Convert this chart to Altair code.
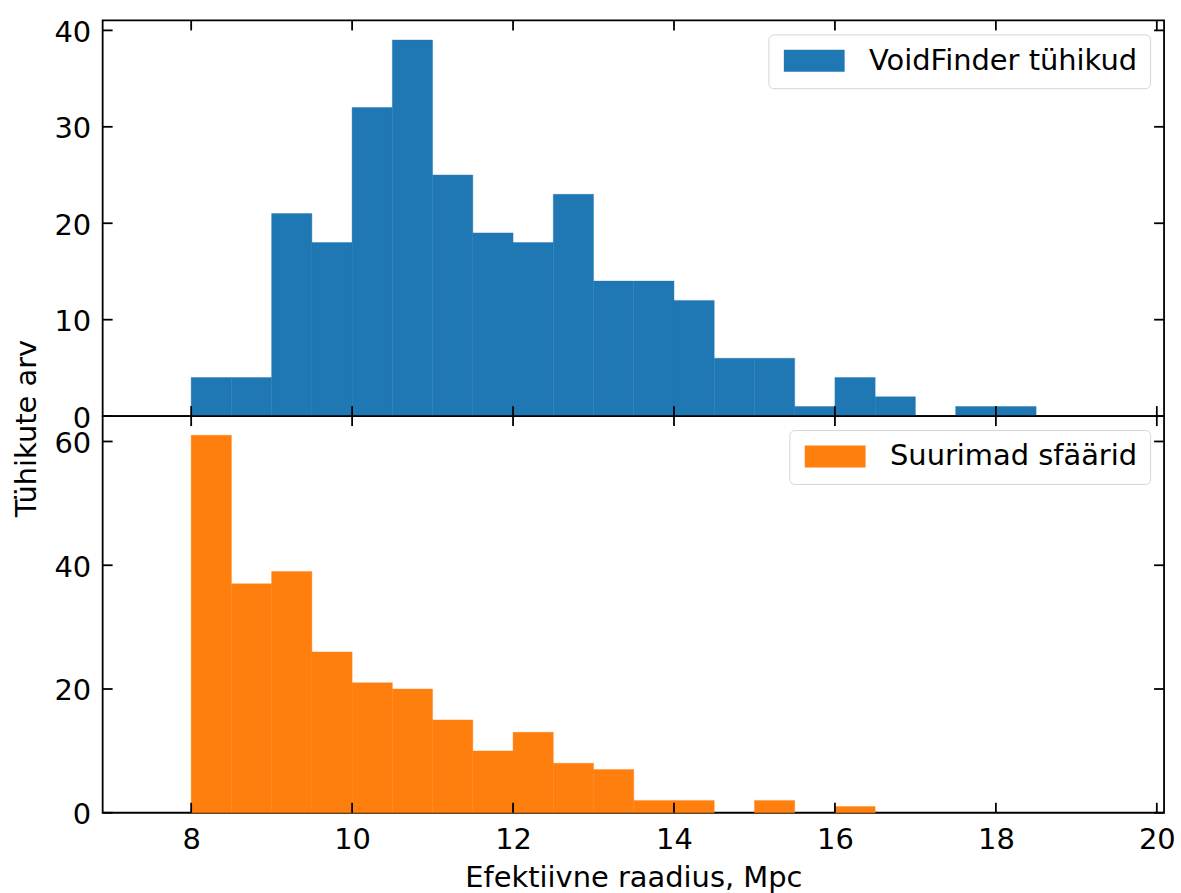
import altair as alt
import pandas as pd

# ---- data ----
BIN_WIDTH = 0.5
vf_bin_start = [8.0, 8.5, 9.0, 9.5, 10.0, 10.5, 11.0, 11.5, 12.0, 12.5, 13.0,
                13.5, 14.0, 14.5, 15.0, 15.5, 16.0, 16.5, 17.0, 17.5, 18.0]
vf_counts = [4, 4, 21, 18, 32, 39, 25, 19, 18, 23, 14, 14, 12, 6, 6, 1, 4, 2, 0, 1, 1]

sf_bin_start = [8.0, 8.5, 9.0, 9.5, 10.0, 10.5, 11.0, 11.5, 12.0, 12.5, 13.0,
                13.5, 14.0, 14.5, 15.0, 15.5, 16.0]
sf_counts = [61, 37, 39, 26, 21, 20, 15, 10, 13, 8, 7, 2, 2, 0, 2, 0, 1]

vf_label = "VoidFinder tühikud"
sf_label = "Suurimad sfäärid"
vf_color = "#1f77b4"
sf_color = "#ff7f0e"

x_ticks = [8, 10, 12, 14, 16, 18, 20]
top_y_ticks = [0, 10, 20, 30, 40]
bottom_y_ticks = [0, 20, 40, 60]

x_domain = [6.9, 20.09]
top_y_domain = [0, 41.03]
bottom_y_domain = [0, 64.1]

x_title = "Efektiivne raadius, Mpc"
y_title = "Tühikute arv"

W = 1065
H_TOP = 397
H_BOT = 398
FS = 29
FONT = "DejaVu Sans"
TICK_LEN = 10
LINE_W = 1.8


def make_df(starts, counts, label):
    return pd.DataFrame({
        "start": starts,
        "end": [s + BIN_WIDTH for s in starts],
        "count": counts,
        "base": [0] * len(starts),
        "series": [label] * len(starts),
    })


def panel(df, color, label, y_domain, y_ticks, height, bottom_axis, y_title_text):
    xs = alt.Scale(domain=x_domain, nice=False, zero=False)
    ys = alt.Scale(domain=y_domain, nice=False, zero=False)

    if bottom_axis:
        x_axis = alt.Axis(values=x_ticks, format="d", labelFontSize=FS, labelFont=FONT,
                          labelPadding=13, ticks=False, tickSize=0, domain=False, grid=False,
                          labelFlush=False, labelOverlap=False,
                          title=x_title, titleFontSize=FS, titleFont=FONT,
                          titleFontWeight="normal", titleBaseline="alphabetic", titleY=74)
    else:
        x_axis = None

    y_kwargs = dict(values=y_ticks, format="d", labelFontSize=FS, labelFont=FONT,
                    labelPadding=12, ticks=False, tickSize=0, domain=False, grid=False,
                    labelFlush=False, labelOverlap=False, labelOffset=2)
    if y_title_text:
        y_axis = alt.Axis(title=y_title_text, titleFontSize=FS, titleFont=FONT,
                          titleFontWeight="normal", titleAngle=-90, titleAlign="center",
                          titleBaseline="alphabetic", titleX=-67, titleY=409, **y_kwargs)
    else:
        y_axis = alt.Axis(title=None, **y_kwargs)

    bars = alt.Chart(df).transform_filter("datum.count > 0").mark_rect(
        stroke=color, strokeWidth=0.4
    ).encode(
        x=alt.X("start:Q", scale=xs, axis=x_axis),
        x2="end:Q",
        y=alt.Y("count:Q", scale=ys, axis=y_axis),
        y2="base:Q",
        color=alt.Color("series:N",
                        scale=alt.Scale(domain=[label], range=[color]),
                        legend=alt.Legend(
                            title=None, orient="top-right", offset=14,
                            symbolType="M-1,-1L4.545,-1L4.545,1L-1,1Z",
                            symbolSize=484, symbolStrokeWidth=0, symbolOpacity=1,
                            labelFontSize=FS, labelFont=FONT, labelColor="black",
                            labelLimit=0, labelOffset=60, padding=12, fillColor="white",
                            strokeColor="#d5d5d5", cornerRadius=5)),
    )

    xt = pd.DataFrame({"v": x_ticks})
    yt = pd.DataFrame({"v": y_ticks})
    rule = dict(color="black", strokeWidth=LINE_W)
    top_t = alt.Chart(xt).mark_rule(**rule).encode(
        x=alt.X("v:Q", scale=xs, axis=x_axis), y=alt.value(0), y2=alt.value(TICK_LEN))
    bot_t = alt.Chart(xt).mark_rule(**rule).encode(
        x=alt.X("v:Q", scale=xs, axis=x_axis), y=alt.value(height), y2=alt.value(height - TICK_LEN))
    left_t = alt.Chart(yt).mark_rule(**rule).encode(
        y=alt.Y("v:Q", scale=ys, axis=y_axis), x=alt.value(0), x2=alt.value(TICK_LEN))
    right_t = alt.Chart(yt).mark_rule(**rule).encode(
        y=alt.Y("v:Q", scale=ys, axis=y_axis), x=alt.value(W), x2=alt.value(W - TICK_LEN))

    return alt.layer(bars, top_t, bot_t, left_t, right_t).properties(width=W, height=height)


top = panel(make_df(vf_bin_start, vf_counts, vf_label), vf_color, vf_label,
            top_y_domain, top_y_ticks, H_TOP, False, y_title)
bottom = panel(make_df(sf_bin_start, sf_counts, sf_label), sf_color, sf_label,
               bottom_y_domain, bottom_y_ticks, H_BOT, True, None)

chart = (
    alt.vconcat(top, bottom, spacing=0)
    .resolve_scale(color="independent")
    .properties(bounds="flush", padding={"left": 12, "top": 16, "right": 4, "bottom": 2},
                background="white")
    .configure_view(stroke="black", strokeWidth=LINE_W)
    .configure_axis(labelColor="black", titleColor="black")
)

chart.save("out.html", embed_options={"renderer": "svg", "actions": False})
